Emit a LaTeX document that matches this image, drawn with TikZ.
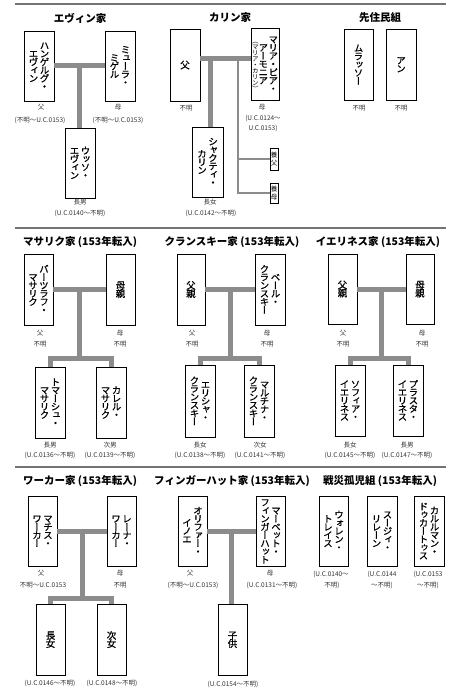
\documentclass[tikz,border=0pt]{standalone}
\usepackage{fontspec}
\newfontfamily\jp{Noto Sans CJK JP}
\newfontfamily\vjp[RawFeature=+vert,FakeBold=0.8]{Noto Sans CJK JP}
\newfontfamily\vjpthin[RawFeature=+vert]{Noto Sans CJK JP}
\usetikzlibrary{calc}
\newdimen\tpitch \tpitch=8.2pt
\newdimen\tcharw \tcharw=9.5pt
\def\tateloop#1{\ifx#1\relax\else\hbox to\tcharw{\vrule height\dimexpr.5\tpitch+.38em\relax depth\dimexpr.5\tpitch-.38em\relax width0pt\hss\smash{#1}\hss}\expandafter\tateloop\fi}
\newcommand\tc[1]{$\vcenter{\offinterlineskip\tateloop#1\relax}$}
\newcommand\twocol[2]{\tc{#1}\hspace{1.5pt}\tc{#2}}
\newcommand\smallcol[1]{{\vjpthin\fontsize{6.5}{6.5}\selectfont\tpitch=6pt\tcharw=6.5pt\tc{#1}}}
\newcommand\ycol[1]{{\tpitch=8pt\tcharw=6.5pt\tc{#1}}}
\tikzset{
  pbox/.style={draw=black, line width=0.7pt, inner sep=0pt, minimum width=29pt, minimum height=70pt,
    font=\vjp\fontsize{9.5}{9.5}\selectfont},
  ybox/.style={draw=black, line width=0.6pt, inner sep=0pt, minimum width=8pt, minimum height=21pt,
    font=\vjpthin\fontsize{6.5}{6.5}\selectfont},
  bar/.style={draw=black!45, line width=5pt},
  thinbar/.style={draw=black!45, line width=1.5pt},
  lab/.style={font=\jp\fontsize{6.5}{7}\selectfont, text=black!80, inner sep=0pt},
  ttl/.style={font=\jp\bfseries\fontsize{10.5}{12}\selectfont, inner sep=0pt},
  sepline/.style={draw=black!55, line width=1.2pt}
}
\begin{document}
\begin{tikzpicture}[x=1pt,y=-1pt]
\path[use as bounding box, fill=white] (0,0) rectangle (456,700);
% separators
\draw[sepline] (15,4) -- (446,4);
\draw[sepline] (15,228) -- (446,228);
\draw[sepline] (15,467) -- (446,467);

% ---------- Panel 1: Evin
\node[ttl] (t1) at (80,18) {エヴィン家};
\node[pbox, minimum width=30pt] (ef) at (39,66) {\twocol{エヴィン}{ハンゲルグ・}};
\node[pbox, minimum width=30pt] (em) at (120,66) {\twocol{ミゲル}{ミューラ・}};
\node[pbox, minimum width=30pt] (es) at (80,163) {\twocol{エヴィン}{ウッソ・}};
\draw[bar] (ef.east) -- (em.west) coordinate[midway] (ej);
\draw[bar] (ej) -- (ej |- es.north);
\node[lab] (ef1) at (41,107) {父};
\node[lab] (ef2) at (40,120) {(不明～U.C.0153)};
\node[lab] (em1) at (118,107) {母};
\node[lab] (em2) at (118,120) {(不明～U.C.0153)};
\node[lab] (es1) at (80,202) {長男};
\node[lab] (es2) at (80,213) {(U.C.0140～不明)};

% ---------- Panel 2: Karin
\node[ttl] (t2) at (230,18) {カリン家};
\node[pbox, minimum width=30pt, minimum height=72pt] (kf) at (185,65) {\tc{父}};
\node[pbox, minimum width=28pt, minimum height=72pt] (km) at (265,64) {\smallcol{（マリア・カリン）}\tc{アーモニア}\hspace{0.5pt}\tc{マリア・ピア・}};
\node[pbox, minimum width=31pt] (kd) at (207.5,162) {\twocol{カリン}{シャクティ・}};
\node[ybox, minimum height=22pt] (ky1) at (274,159) {\ycol{養父}};
\node[ybox, minimum height=20pt] (ky2) at (274,193) {\ycol{養母}};
\coordinate (kj) at (210,59);
\coordinate (kt) at (238,59);
\draw[thinbar] (kt) |- (ky1.west);
\draw[thinbar] (kt) |- (ky2.west);
\draw[bar] (kf.east |- kj) -- (km.west |- kj);
\draw[bar] (kj) -- (kj |- kd.north);
\node[lab] (kf1) at (186,108) {不明};
\node[lab] (km1) at (262,107) {母};
\node[lab] (km2) at (263,118) {(U.C.0124～};
\node[lab] (km3) at (263,128) {U.C.0153)};
\node[lab] (kd1) at (210,202) {長女};
\node[lab] (kd2) at (211,213) {(U.C.0142～不明)};

% ---------- Panel 3: natives
\node[ttl] (t3) at (380,18) {先住民組};
\node[pbox, minimum height=71pt] (p1) at (358.5,64.5) {\tc{ムラッソー}};
\node[pbox, minimum width=30pt, minimum height=71pt] (p2) at (401,64.5) {\tc{アン}};
\node[lab] (p1l) at (359,108) {不明};
\node[lab] (p2l) at (401,108) {不明};

% ---------- Panel 4: Masaryk
\node[ttl] (t4) at (80,242) {マサリク家 (153年転入)};
\node[pbox, minimum height=71pt] (mf) at (38.5,289.5) {\twocol{マサリク}{バーツラフ・}};
\node[pbox, minimum height=71pt] (mm) at (120.5,289.5) {\tc{母親}};
\node[pbox, minimum width=30pt, minimum height=71pt] (mc1) at (50,402.5) {\twocol{マサリク}{トマーシュ・}};
\node[pbox, minimum width=30pt, minimum height=71pt] (mc2) at (111,402.5) {\twocol{マサリク}{カレル・}};
\coordinate (mk) at (80,358);
\draw[bar] (mf.east) -- (mm.west) coordinate[midway] (mj);
\draw[bar] (mj) -- (mj |- mk);
\draw[bar, line join=miter] (mc1.north) -- (mc1.north |- mk) -- (mc2.north |- mk) -- (mc2.north);
\node[lab] (mf1) at (40,333) {父};
\node[lab] (mf2) at (40,344) {不明};
\node[lab] (mm1) at (120,333) {母};
\node[lab] (mm2) at (120,344) {不明};
\node[lab] (mc11) at (50,445) {長男};
\node[lab] (mc12) at (50,455) {(U.C.0136～不明)};
\node[lab] (mc21) at (110,445) {次男};
\node[lab] (mc22) at (110,455) {(U.C.0139～不明)};

% ---------- Panel 5: Kransky
\node[ttl] (t5) at (232,242) {クランスキー家 (153年転入)};
\node[pbox, minimum width=28pt, minimum height=71pt] (cf) at (191,289.5) {\tc{父親}};
\node[pbox, minimum width=30pt, minimum height=71pt] (cm) at (270,289.5) {\twocol{クランスキー}{ベール・}};
\node[pbox, minimum width=30pt, minimum height=72pt] (cc1) at (200,401) {\twocol{クランスキー}{エリシャ・}};
\node[pbox, minimum width=30pt, minimum height=72pt] (cc2) at (259,401) {\twocol{クランスキー}{マルチナ・}};
\coordinate (ck) at (230,358);
\draw[bar] (cf.east) -- (cm.west) coordinate[midway] (cj);
\draw[bar] (cj) -- (cj |- ck);
\draw[bar, line join=miter] (cc1.north) -- (cc1.north |- ck) -- (cc2.north |- ck) -- (cc2.north);
\node[lab] (cf1) at (192,333) {父};
\node[lab] (cf2) at (192,344) {不明};
\node[lab] (cm1) at (267,333) {母};
\node[lab] (cm2) at (267,344) {不明};
\node[lab] (cc11) at (200,445) {長女};
\node[lab] (cc12) at (200,455) {(U.C.0138～不明)};
\node[lab] (cc21) at (260,445) {次女};
\node[lab] (cc22) at (260,455) {(U.C.0141～不明)};

% ---------- Panel 6: Ierines
\node[ttl] (t6) at (378,242) {イエリネス家 (153年転入)};
\node[pbox] (if) at (342.5,289) {\tc{父親}};
\node[pbox, minimum width=28pt] (im) at (420,289) {\tc{母親}};
\node[pbox, minimum width=30pt, minimum height=71pt] (ic1) at (350,400.5) {\twocol{イエリネス}{ソフィア・}};
\node[pbox, minimum width=30pt, minimum height=71pt] (ic2) at (408,400.5) {\twocol{イエリネス}{プラスタ・}};
\coordinate (ik) at (380,358);
\draw[bar] (if.east) -- (im.west) coordinate[midway] (ij);
\draw[bar] (ij) -- (ij |- ik);
\draw[bar, line join=miter] (ic1.north) -- (ic1.north |- ik) -- (ic2.north |- ik) -- (ic2.north);
\node[lab] (if1) at (343,333) {父};
\node[lab] (if2) at (343,344) {不明};
\node[lab] (im1) at (422,333) {母};
\node[lab] (im2) at (422,344) {不明};
\node[lab] (ic11) at (350,445) {長女};
\node[lab] (ic12) at (350,455) {(U.C.0145～不明)};
\node[lab] (ic21) at (407,445) {長男};
\node[lab] (ic22) at (407,455) {(U.C.0147～不明)};

% ---------- Panel 7: Walker
\node[ttl] (t7) at (80,481) {ワーカー家 (153年転入)};
\node[pbox] (wf) at (42.5,531) {\twocol{ワーカー}{マチス・}};
\node[pbox] (wm) at (121.5,531) {\twocol{ワーカー}{レーナ・}};
\node[pbox, minimum height=71pt] (wc1) at (50.5,639.5) {\tc{長女}};
\node[pbox, minimum height=71pt] (wc2) at (111.5,639.5) {\tc{次女}};
\coordinate (wk) at (82,598);
\draw[bar] (wf.east) -- (wm.west) coordinate[midway] (wj);
\draw[bar] (wj) -- (wj |- wk);
\draw[bar, line join=miter] (wc1.north) -- (wc1.north |- wk) -- (wc2.north |- wk) -- (wc2.north);
\node[lab] (wf1) at (41,573) {父};
\node[lab] (wf2) at (43,585) {不明～U.C.0153};
\node[lab] (wm1) at (120,573) {母};
\node[lab] (wm2) at (120,585) {不明};
\node[lab] (wc1l) at (50,683) {(U.C.0146～不明)};
\node[lab] (wc2l) at (112,683) {(U.C.0148～不明)};

% ---------- Panel 8: Fingerhat
\node[ttl] (t8) at (232,481) {フィンガーハット家 (153年転入)};
\node[pbox] (ff) at (192.5,531) {\twocol{イノエ}{オリファー・}};
\node[pbox] (fm) at (270.5,531) {\twocol{フィンガーハット}{マーベット・}};
\node[pbox, minimum height=71pt] (fc) at (232.5,639.5) {\tc{子供}};
\draw[bar] (ff.east) -- (fm.west) coordinate[midway] (fj);
\draw[bar] (fj) -- (fj |- fc.north);
\node[lab] (ff1) at (190,573) {父};
\node[lab] (ff2) at (193,585) {(不明～U.C.0153)};
\node[lab] (fm1) at (270,573) {母};
\node[lab] (fm2) at (272,585) {(U.C.0131～不明)};
\node[lab] (fcl) at (233,684) {(U.C.0154～不明)};

% ---------- Panel 9: war orphans
\node[ttl] (t9) at (380,481) {戦災孤児組 (153年転入)};
\node[pbox] (o1) at (333.5,531) {\twocol{トレイス}{ウォレン・}};
\node[pbox, minimum width=30pt] (o2) at (382,531) {\twocol{リレーン}{スージィ・}};
\node[pbox, minimum width=30pt] (o3) at (429,531) {\twocol{ドゥカートゥス}{カルルマン・}};
\node[lab] (o1a) at (331,574) {(U.C.0140～};
\node[lab] (o1b) at (332,585) {不明)};
\node[lab] (o2a) at (382,574) {(U.C.0144};
\node[lab] (o2b) at (382,585) {～不明)};
\node[lab] (o3a) at (428,574) {(U.C.0153};
\node[lab] (o3b) at (428,585) {～不明)};
\end{tikzpicture}
\end{document}
